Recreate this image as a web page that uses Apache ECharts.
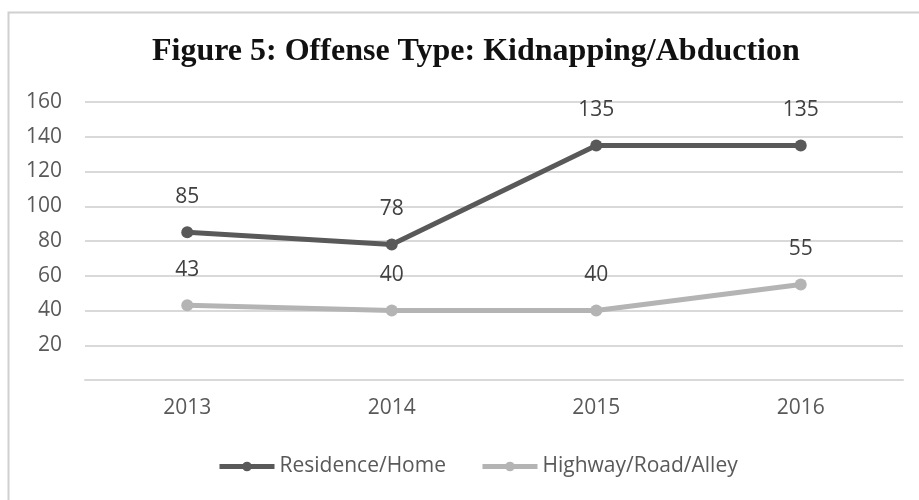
<!DOCTYPE html>
<html><head><meta charset="utf-8">
<script src="https://cdn.jsdelivr.net/npm/echarts@6/dist/echarts.min.js"></script>
<style>html,body{margin:0;padding:0;background:#fff}#c{width:919px;height:500px}</style>
</head><body><div id="c"></div>
<script>
const titleText = 'Figure 5: Offense Type: Kidnapping/Abduction';
const years = ['2013', '2014', '2015', '2016'];
const residence = [85, 78, 135, 135];
const highway = [43, 40, 40, 55];
const seriesNames = ['Residence/Home', 'Highway/Road/Alley'];

const chart = echarts.init(document.getElementById('c'));
const lblFont = 'Open Sans';
function mk(name, data, color) {
  return {
    name: name, type: 'line', data: data,
    symbol: 'circle', symbolSize: 12,
    lineStyle: { color: color, width: 5 },
    itemStyle: { color: color },
    label: { show: true, position: 'top', distance: 19, color: '#404040', fontFamily: lblFont, fontSize: 21 }
  };
}
chart.setOption({
  animation: false,
  backgroundColor: '#fff',
  graphic: [{ type: 'rect', shape: { x: 8.5, y: 12.5, width: 950, height: 600 }, style: { fill: 'none', stroke: '#d0d0d0', lineWidth: 2 } }],
  title: { text: titleText, left: 147, top: 31, textStyle: { fontFamily: 'Liberation Serif', fontWeight: 'bold', fontSize: 32, color: '#111' } },
  legend: { bottom: 18, left: 212, itemWidth: 55, itemHeight: 12, itemGap: 34,
    lineStyle: { width: 5 },
    textStyle: { fontFamily: lblFont, fontSize: 21, color: '#595959' }, data: seriesNames },
  grid: { left: 85, right: 16, top: 102, bottom: 120, containLabel: false },
  xAxis: { type: 'category', data: years, boundaryGap: true,
    axisLine: { lineStyle: { color: '#d9d9d9', width: 2 } }, axisTick: { show: false },
    axisLabel: { fontFamily: lblFont, fontSize: 21, color: '#595959', margin: 18 } },
  yAxis: { type: 'value', min: 0, max: 160, interval: 20,
    axisLine: { show: false }, axisTick: { show: false },
    splitLine: { lineStyle: { color: '#d9d9d9', width: 2 } },
    axisLabel: { fontFamily: lblFont, fontSize: 21, color: '#595959', margin: 23, formatter: v => v === 0 ? '' : v } },
  series: [mk(seriesNames[0], residence, '#595959'), mk(seriesNames[1], highway, '#b4b4b4')]
});
</script></body></html>
